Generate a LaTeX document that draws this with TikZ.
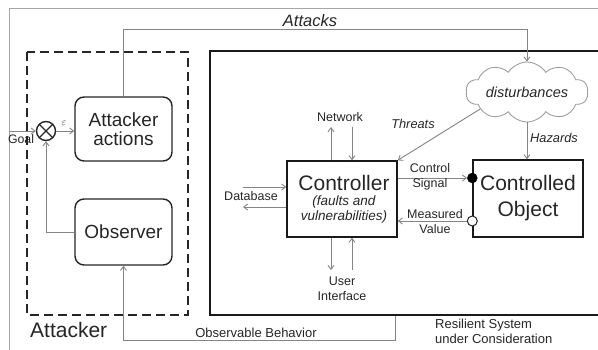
\documentclass[tikz,border=0pt]{standalone}
\usepackage{fontspec}
\setmainfont{Liberation Sans}
\usetikzlibrary{arrows.meta,shapes.symbols,calc}
\definecolor{conncol}{gray}{0.52}
\definecolor{txt}{gray}{0.15}
\begin{document}
\begin{tikzpicture}[x=1pt,y=-1pt,
 conn/.style={draw=conncol, line width=0.9pt},
 arr/.style={conn,-{Straight Barb[length=4pt,width=6pt]}},
 rbox/.style={draw=black!85, line width=1.4pt, rounded corners=9pt, align=center, text=txt,
   font=\fontsize{19}{19}\selectfont, inner sep=0pt},
 sbox/.style={draw=black!90, line width=1.4pt, align=center, inner sep=0pt, text=txt},
 lbl/.style={font=\fontsize{12.5}{15}\selectfont, text=txt, align=center, inner sep=0pt},
 ilbl/.style={font=\fontsize{12.8}{15}\selectfont\itshape, text=txt, align=center, inner sep=0pt}]
\useasboundingbox (0,0) rectangle (598,349);
\clip (0,0) rectangle (598,349);
\fill[white] (0,0) rectangle (598,349);

% outer frame (partial)
\draw[draw=gray!70, line width=0.8pt] (9,352) -- (9,8) -- (605,8);

% attacker dashed box
\draw[line width=1.6pt, dash pattern=on 9pt off 5pt, draw=black!85] (27,52) rectangle (188,315);
\node[anchor=base west, font=\fontsize{21}{23}\selectfont, text=txt, inner sep=0pt] (attlbl) at (30,337) {Attacker};

% system box
\node[sbox, line width=1.6pt, minimum width=410, minimum height=264] (sys) at (415,183) {};
\node[anchor=base west, align=left, font=\fontsize{13}{15}\selectfont, text=txt, inner sep=0pt] (syslbl) at (435,343) {Resilient System\\under Consideration};

% attacker boxes
\node[rbox, minimum width=97, minimum height=64] (aa) at (123.5,129) {Attacker\\actions};
\node[rbox, minimum width=97, minimum height=66] (obs) at (123.5,232) {Observer};

% summing junction
\node[circle, draw=black!85, line width=1.4pt, minimum size=19pt, inner sep=0pt,
  path picture={\draw[line width=1.3pt,black!85] (path picture bounding box.north west) -- (path picture bounding box.south east)
  (path picture bounding box.north east) -- (path picture bounding box.south west);}] (sum) at (46,131) {};
\coordinate (goal) at (9,131);
\draw[arr] (goal) -- (sum.west);
\node[lbl, font=\fontsize{12.3}{14}\selectfont] (goallbl) at (21,139) {Goal};
\draw[arr] (sum.east) -- (sum.east -| aa.west);
\node[inner sep=0pt, font=\fontsize{10}{10}\selectfont, text=txt] (eps) at (64,123) {$\varepsilon$};
\draw[arr] (obs.west) -| (sum.south);

% controller & object
\node[sbox, minimum width=110, minimum height=76] (ctrl) at (342,199) {};
\node[font=\fontsize{21}{23}\selectfont, text=txt, inner sep=0pt] (ctrlt) at (344,183) {Controller};
\node[ilbl, font=\fontsize{13.5}{15}\selectfont\itshape] (ctrli) at (344,210) {(faults and\\vulnerabilities)};
\node[sbox, minimum width=110, minimum height=77, font=\fontsize{21}{26}\selectfont] (co) at (528,198.5) {Controlled\\Object};

% cloud
\node[cloud, draw=gray!75, line width=0.9pt, cloud puffs=10, cloud puff arc=115, cloud ignores aspect,
  minimum width=122, minimum height=60, inner sep=0pt, text=txt,
  font=\fontsize{14.5}{16}\selectfont\itshape] (cloud) at (527,92) {disturbances};

% attacks
\draw[arr] (aa.north) -- ++(0,-67) -| (cloud.north);
\node[ilbl, font=\fontsize{16.5}{18}\selectfont\itshape] (attacks) at (310,21) {Attacks};

% threats & hazards
\draw[arr] (cloud.200) -- (ctrl.north east);
\node[ilbl] (threats) at (413,124) {Threats};
\draw[arr] (cloud.south) -- (cloud.south |- co.north);
\node[ilbl] (hazards) at (554,138) {Hazards};

% ports
\node[circle, fill=black, draw=black, minimum size=10pt, inner sep=0pt] (dot1) at (co.west |- 0,178) {};
\node[circle, fill=white, draw=black!85, line width=1pt, minimum size=10pt, inner sep=0pt] (dot2) at (co.west |- 0,221) {};
\draw[arr] (ctrl.east |- dot1) -- (dot1.west);
\node[lbl] (cslbl) at (430,177) {Control\\Signal};
\draw[arr] (dot2.west) -- (ctrl.east |- dot2);
\node[lbl] (mvlbl) at (435,222) {Measured\\Value};

% network
\coordinate (netup) at (331,127);
\coordinate (netdn) at (352,127);
\draw[arr] (ctrl.north -| netup) -- (netup);
\draw[arr] (netdn) -- (ctrl.north -| netdn);
\node[lbl] (net) at (340,117) {Network};

% database
\coordinate (dbin) at (243,187);
\coordinate (dbout) at (243,207);
\draw[arr] (dbin) -- (ctrl.west |- dbin);
\draw[arr] (ctrl.west |- dbout) -- (dbout);
\node[lbl] (db) at (251,196) {Database};

% user interface
\coordinate (uidn) at (331,270);
\coordinate (uiup) at (352,270);
\draw[arr] (ctrl.south -| uidn) -- (uidn);
\draw[arr] (uiup) -- (ctrl.south -| uiup);
\node[lbl] (ui) at (342,289) {User\\Interface};

% observable behavior
\draw[arr] (sys.south -| 395,0) -- ++(0,25) -| (obs.south);
\node[lbl, font=\fontsize{13}{15}\selectfont] (oblbl) at (256,333) {Observable Behavior};
\end{tikzpicture}
\end{document}
